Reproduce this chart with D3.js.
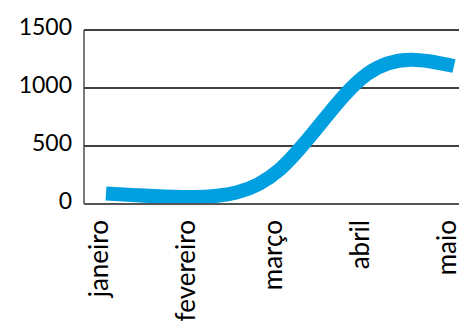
<!DOCTYPE html>
<html>
<head>
<meta charset="utf-8">
<script src="https://cdn.jsdelivr.net/npm/d3@7"></script>
<style>
    body { margin: 0; background: #fff; }
    text { font-family: Lato, sans-serif; fill: #000; }
</style>
</head>
<body>
<div id="chart"></div>
<script>
// chart data
var months = ["janeiro", "fevereiro", "março", "abril", "maio"];
var values = [90, 60, 300, 1120, 1190];
var yTicks = [0, 500, 1000, 1500];

var width = 459, height = 322;
var margin = { top: 30, left: 84, bottom: 118 };

var svg = d3.select("#chart").append("svg")
    .attr("width", width)
    .attr("height", height);

var x = d3.scalePoint()
    .domain(months)
    .range([106, 454]);

var y = d3.scaleLinear()
    .domain([0, 1500])
    .range([height - margin.bottom, margin.top]);

// horizontal grid lines
svg.append("g").selectAll("line")
    .data(yTicks.filter(function (d) { return d > 0; }))
    .enter().append("line")
    .attr("x1", margin.left)
    .attr("x2", width)
    .attr("y1", function (d) { return y(d); })
    .attr("y2", function (d) { return y(d); })
    .attr("stroke", "#000")
    .attr("stroke-width", 1.3);

// y axis labels
svg.append("g").selectAll("text")
    .data(yTicks)
    .enter().append("text")
    .attr("x", 72)
    .attr("y", function (d) { return y(d) - 3; })
    .attr("dy", "0.35em")
    .attr("text-anchor", "end")
    .style("font-size", "23px")
    .text(function (d) { return d; });

// the line (natural spline looks closest to the smoothed original)
var line = d3.line()
    .x(function (d, i) { return x(months[i]); })
    .y(function (d) { return y(d); })
    .curve(d3.curveNatural);

svg.append("path")
    .datum(values)
    .attr("d", line)
    .attr("fill", "none")
    .attr("stroke", "#009fe0")
    .attr("stroke-width", 14);

// axes lines
svg.append("line")
    .attr("x1", margin.left).attr("x2", margin.left)
    .attr("y1", margin.top).attr("y2", y(0))
    .attr("stroke", "#333").attr("stroke-width", 1.3);
svg.append("line")
    .attr("x1", margin.left).attr("x2", width)
    .attr("y1", y(0)).attr("y2", y(0))
    .attr("stroke", "#555").attr("stroke-width", 2);

// month labels, rotated
svg.append("g").selectAll("text")
    .data(months)
    .enter().append("text")
    .attr("transform", function (d) { return "translate(" + (x(d) - 7) + ",220) rotate(-90)"; })
    .attr("dy", "0.35em")
    .attr("text-anchor", "end")
    .style("font-size", "26px")
    .text(function (d) { return d; });
</script>
</body>
</html>
